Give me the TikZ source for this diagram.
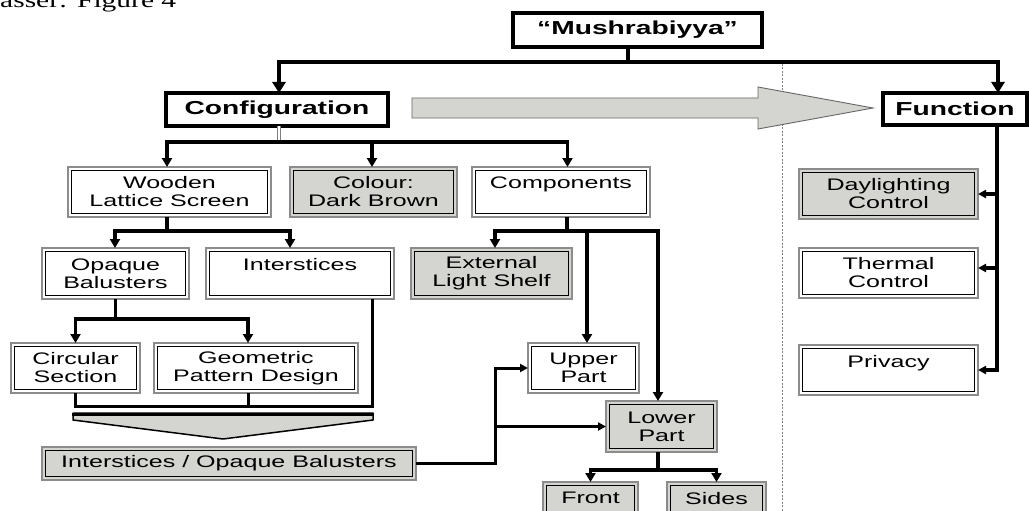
\documentclass[tikz,border=0pt]{standalone}
\usepackage{fontspec}
\setmainfont{Liberation Sans}[FakeStretch=1.5]
\newfontfamily\serifx{Liberation Serif}
\usetikzlibrary{arrows.meta}
\definecolor{gfill}{RGB}{212,212,208}
\definecolor{gline}{RGB}{140,140,140}
\newcommand\regfont{\fontsize{16.7}{18}\selectfont}
\newcommand\bigfont{\fontsize{18.8}{20}\selectfont\bfseries}
\begin{document}
\begin{tikzpicture}[x=1pt,y=-1pt,
  sz/.style 2 args={minimum width=#1pt, minimum height=#2pt},
  bx/.style={draw=gline, line width=1.6pt, fill=white, inner sep=0pt, outer sep=0pt, align=center, font=\regfont},
  gbx/.style={bx, fill=gfill},
  inframe/.style={draw=black, line width=1pt},
  topbox/.style={draw=black, line width=3.4pt, fill=white, inner sep=0pt, outer sep=0pt, font=\bigfont},
  conn/.style={line width=3.4pt},
  conn2/.style={line width=3pt},
  stem/.style={draw=gray, double=white, line width=1pt, double distance=1.4pt},
  arrbig/.style={-{Triangle[width=13pt,length=11pt]}},
  arr/.style={-{Triangle[width=10pt,length=9pt]}},
  arrsm/.style={-{Triangle[width=8pt,length=8pt]}}
]
\fill[white] (0,0) rectangle (1029,511);
\useasboundingbox (0,0) rectangle (1029,511);

\node[anchor=base west, inner sep=0pt] (cap) at (0,8) {\resizebox{176pt}{\height}{\serifx\fontsize{21}{23}\selectfont asser: Figure 4}};

% separator
\draw[gray, dash pattern=on 2pt off 1.5pt, line width=0.9pt] (782,64) -- (782,511);

% big grey arrow
\draw[fill=gfill, draw=gray!80!black, line width=0.9pt] (412,98) -- (758,98) -- (758,87) -- (873,108) -- (758,129) -- (758,118) -- (412,118) -- cycle;

% nodes
\node[topbox, sz={249}{34}] (mush) at (637.5,30) {“Mushrabiyya”};
\node[topbox, sz={222}{33}] (conf) at (277,109.5) {Configuration};
\node[topbox, sz={144}{32}] (func) at (955,109) {Function};

\node[bx,  sz={203}{50}] (wood)   at (169.5,192) {Wooden\\Lattice Screen};
\node[gbx, sz={167}{50}] (colour) at (373.5,192) {Colour:\\Dark Brown};
\node[bx,  sz={178}{50}] (comp)   at (561,192) {Components\\~};
\node[bx,  sz={147}{51}] (opaque) at (115.5,273.5) {Opaque\\Balusters};
\node[bx,  sz={188}{51}] (inter)  at (300,273.5) {Interstices\\~};
\node[gbx, sz={161}{51}] (els)    at (491.5,273.5) {External\\Light Shelf};
\node[bx,  sz={129}{50}] (circ)   at (75.5,368) {Circular\\Section};
\node[bx,  sz={204}{50}] (geo)    at (256,368) {Geometric\\Pattern Design};
\node[bx,  sz={111}{50}] (upper)  at (583.5,368) {Upper\\Part};
\node[gbx, sz={111}{51}] (lower)  at (661.5,426.5) {Lower\\Part};
\node[gbx, sz={374}{33}] (iob)    at (229,463.5) {Interstices / Opaque Balusters};
\node[gbx, sz={95}{50}]  (front)  at (590.5,507) {Front\\~};
\node[gbx, sz={99}{50}]  (sides)  at (716.5,507) {Sides\\~};
\node[gbx, sz={179}{50}] (day)    at (888.5,194) {Daylighting\\Control};
\node[bx,  sz={179}{50}] (therm)  at (888.5,273) {Thermal\\Control};
\node[bx,  sz={179}{50}] (priv)   at (888.5,370) {Privacy\\~};

% inner frames of the double-bordered boxes
\foreach \n in {wood,colour,comp,opaque,inter,els,circ,geo,upper,lower,iob,front,sides,day,therm,priv}
  \draw[inframe] ([shift={(3.4pt,3.4pt)}]\n.south west) rectangle ([shift={(-3.4pt,-3.4pt)}]\n.north east);

% top connectors
\draw[conn] ([xshift=-9.5pt]mush.south) -- ++(0,15) coordinate (mj);
\draw[conn,arrbig] (mj) -| ([xshift=2pt]conf.north);
\draw[conn,arrbig] (mj) -| ([xshift=43pt]func.north);

% configuration
\draw[stem] ([xshift=2pt]conf.south) -- ++(0,16) coordinate (cj);
\draw[conn,arr] (cj) -| ([xshift=-2.5pt]wood.north);
\draw[conn,arr] (cj) -| ([xshift=-1.5pt]colour.north);
\draw[conn,arr] (cj) -| ([xshift=6.5pt]comp.north);

% wooden lattice
\draw[conn] ([xshift=-2.5pt]wood.south) -- ++(0,14) coordinate (wj);
\draw[conn,arr] (wj) -| ([xshift=-0.5pt]opaque.north);
\draw[conn,arr] (wj) -| ([xshift=-10pt]inter.north);

% opaque balusters
\draw[conn] (opaque.south) -- ++(0,20) coordinate (oj);
\draw[conn,arr] (oj) -| (circ.north);
\draw[conn,arr] (oj) -| ([xshift=-8pt]geo.north);

% merge lines
\draw[conn2] (circ.south) -- ++(0,13) coordinate (bj) -| ([xshift=72pt]inter.south);
\draw[conn2] ([xshift=-8pt]geo.south) -- ++(0,13);

% chevron
\draw[fill=gfill, line width=1.5pt, line join=round] (73,413) -- (373,413) -- (373,420) -- (223,439) -- (73,420) -- cycle;
\draw[line width=3.4pt] (72,414.5) -- (374,414.5);

% interstices / opaque balusters to upper / lower
\draw[conn2,arrsm] (iob.east) -- ++(79,0) coordinate (ij) |- (upper.west);
\draw[conn2,arrsm] (ij |- lower.west) -- (lower.west);

% components
\draw[conn] ([xshift=6pt]comp.south) -- ++(0,14) coordinate (kj);
\draw[conn,arr] (kj) -| ([xshift=3.5pt]els.north);
\draw[conn,arr] (kj) -| ([xshift=3.5pt]upper.north);
\draw[conn,arr] (kj) -| ([xshift=-3.5pt]lower.north);

% lower part
\draw[conn] ([xshift=-3.5pt]lower.south) -- ++(0,18) coordinate (lj);
\draw[conn,arr] (lj) -| (front.north);
\draw[conn,arr] (lj) -| (sides.north);

% function
\coordinate (fs) at ([xshift=42pt]func.south);
\coordinate (tt) at ([yshift=5pt]therm.east);
\draw[conn,arrsm] (fs) |- (priv.east);
\draw[conn,arrsm] (fs |- day.east) -- (day.east);
\draw[conn,arrsm] (fs |- tt) -- (tt);
\end{tikzpicture}
\end{document}
